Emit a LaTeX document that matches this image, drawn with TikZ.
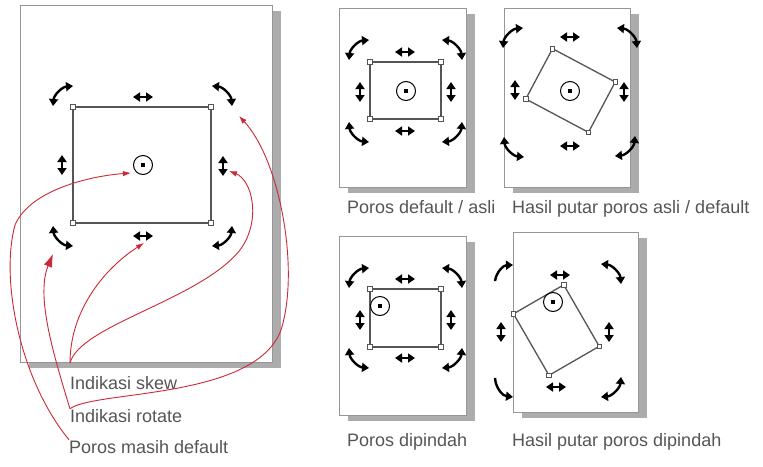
\documentclass[tikz,border=0pt]{standalone}
\usepackage{fontspec}
\setmainfont{Liberation Sans}
\usepackage{tikz}
\usetikzlibrary{arrows.meta}
\definecolor{sheetgray}{RGB}{150,150,150}
\definecolor{shadowgray}{RGB}{172,172,172}
\definecolor{boxgray}{RGB}{85,85,85}
\definecolor{captgray}{RGB}{85,85,85}
\definecolor{callred}{RGB}{205,40,55}
\tikzset{
  sheet/.style={draw=sheetgray, fill=white, line width=0.9pt},
  shadow/.style={fill=shadowgray},
  selrect/.style={draw=boxgray, line width=1.3pt},
  knob/.style={rectangle, draw=boxgray, fill=white, line width=0.8pt,
    minimum size=4.5pt, inner sep=0pt},
  poros/.style={circle, draw=black, line width=1pt, minimum size=19pt, inner sep=0pt,
    path picture={\fill[black] (path picture bounding box.center) ++(-1.6pt,-1.6pt) rectangle ++(3.2pt,3.2pt);}},
  hdl/.style={line width=2.4pt, {Triangle[width=9pt,length=7pt]}-{Triangle[width=9pt,length=7pt]}},
  hdlone/.style={line width=2.4pt, -{Triangle[width=9pt,length=7pt]}},
  rotknob/.pic={\draw[hdl] (-10,10) to[bend left=40] (10,-10);},
  slideknob/.pic={\draw[hdl] (-10,0) -- (10,0);},
  callout/.style={draw=callred, line width=0.9pt, -{Latex[length=8pt,width=5.5pt]}},
  caption/.style={anchor=base west, inner sep=0pt, text=captgray,
    font=\fontsize{18}{20}\selectfont}
}
% page with drop shadow
\newcommand{\sheet}[4]{%
  \fill[shadow] (#1+9,#2+6) rectangle (#3+9,#4+6);
  \draw[sheet] (#1,#2) rectangle (#3,#4);}
% selected object with its corner knobs
\newcommand{\selbox}[5]{%
  \draw[selrect] (#2,#3) rectangle (#4,#5);
  \node[knob] (#1a) at (#2,#3) {};
  \node[knob] (#1b) at (#4,#3) {};
  \node[knob] (#1c) at (#4,#5) {};
  \node[knob] (#1d) at (#2,#5) {};}

\begin{document}
\begin{tikzpicture}[x=1pt, y=-1pt]
  \useasboundingbox (0,0) rectangle (763,466);

  % Big page
  \sheet{20}{5}{272}{362}
  \selbox{m}{73}{107}{211}{223}
  \node[poros] (pm) at (143,165) {};
  \pic at (63,96) {rotknob};
  \pic[rotate=-90] at (222,96) {rotknob};
  \pic[rotate=180] at (222,236) {rotknob};
  \pic[rotate=90] at (63,236) {rotknob};
  \pic at (143,97) {slideknob};
  \pic at (143,236) {slideknob};
  \pic[rotate=90] at (62,165) {slideknob};
  \pic[rotate=90] at (223,166) {slideknob};

  % Poros default / asli
  \sheet{339}{8}{466}{187}
  \selbox{a}{370}{62}{441}{119}
  \node[poros] (pa) at (406,91) {};
  \pic at (359,50) {rotknob};
  \pic[rotate=-90] at (452,50) {rotknob};
  \pic[rotate=180] at (452,132) {rotknob};
  \pic[rotate=90] at (359,132) {rotknob};
  \pic at (405,52) {slideknob};
  \pic at (405,131) {slideknob};
  \pic[rotate=90] at (360,92) {slideknob};
  \pic[rotate=90] at (451,92) {slideknob};
  \node[caption] (ca) at (347,213) {Poros default / asli};

  % Hasil putar poros asli / default
  \sheet{504}{8}{630}{187}
  \begin{scope}[rotate around={-28:(570.5,90.5)}]
    \selbox{b}{535}{62}{606}{119}
  \end{scope}
  \node[poros] (pb) at (570,91) {};
  \pic at (513,38) {rotknob};
  \pic[rotate=-90] at (627,38) {rotknob};
  \pic[rotate=180] at (625,146) {rotknob};
  \pic[rotate=90] at (514,147) {rotknob};
  \pic at (570,37) {slideknob};
  \pic at (570,146) {slideknob};
  \pic[rotate=90] at (515,90) {slideknob};
  \pic[rotate=90] at (624,92) {slideknob};
  \node[caption] (cb) at (512,213) {Hasil putar poros asli / default};

  % Poros dipindah
  \sheet{339}{236}{466}{415}
  \selbox{c}{370}{289}{441}{347}
  \node[poros] (pc) at (380,306) {};
  \pic at (359,278) {rotknob};
  \pic[rotate=-90] at (452,278) {rotknob};
  \pic[rotate=180] at (452,358) {rotknob};
  \pic[rotate=90] at (359,358) {rotknob};
  \pic at (405,279) {slideknob};
  \pic at (405,358) {slideknob};
  \pic[rotate=90] at (360,320) {slideknob};
  \pic[rotate=90] at (451,320) {slideknob};
  \node[caption] (cc) at (347,446) {Poros dipindah};

  % Hasil putar poros dipindah
  \sheet{513}{232}{638}{412}
  \begin{scope}[rotate around={-60:(554,302)}]
    \selbox{d}{544}{285}{615}{343}
  \end{scope}
  \node[poros] (pd) at (553,302) {};
  \draw[hdlone] (495,281) to[bend left=40] (513,265);
  \draw[hdlone] (495,378) to[bend right=40] (513,397);
  \pic[rotate=-90] at (611,274) {rotknob};
  \pic[rotate=180] at (611,387) {rotknob};
  \pic at (560,275) {slideknob};
  \pic at (556,387) {slideknob};
  \pic[rotate=90] at (501,332) {slideknob};
  \pic[rotate=90] at (609,332) {slideknob};
  \node[caption] (cd) at (512,446) {Hasil putar poros dipindah};

  % Callout labels
  \node[caption] (lskew) at (70,389) {Indikasi skew};
  \node[caption] (lrot) at (70,422) {Indikasi rotate};
  \node[caption] (lporos) at (69,453) {Poros masih default};
  \coordinate (skewroot) at (70,363);
  \coordinate (tskewb) at (144,243);
  \coordinate (tskewr) at (229,171);
  \coordinate (trotbl) at (53,254);
  \coordinate (trottr) at (239,116);
  \coordinate (tporos) at (131,173);

  % Red callouts
  \draw[callout] (skewroot) .. controls (70,310) and (105,268) .. (tskewb);
  \draw[callout] (skewroot) .. controls (80,325) and (200,300) .. (240,250)
    .. controls (262,220) and (252,180) .. (tskewr);
  \draw[callout, -{Latex[length=13pt,width=9pt]}] (lrot.north west)
    .. controls (52,350) and (36,295) .. (trotbl);
  \draw[callout] (lrot.north west) .. controls (95,390) and (255,400) .. (281,330)
    .. controls (300,270) and (280,160) .. (trottr);
  \draw[callout] (lporos.north west) .. controls (20,380) and (0,280) .. (15,225)
    .. controls (30,190) and (90,176) .. (tporos);
\end{tikzpicture}
\end{document}
